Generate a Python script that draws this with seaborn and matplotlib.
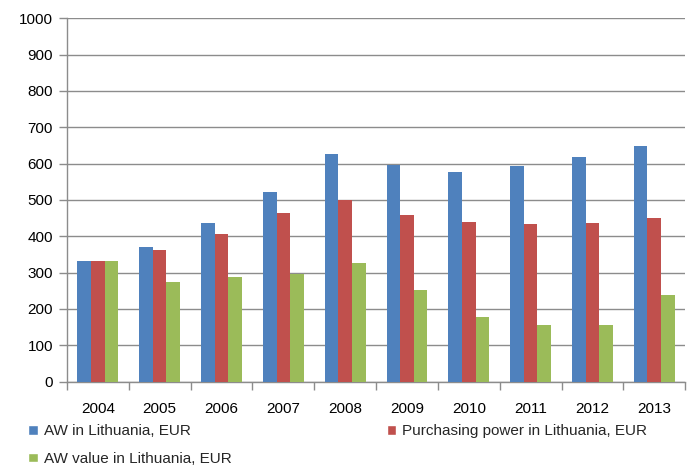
import numpy as np
import pandas as pd
import matplotlib
matplotlib.use("Agg")
import matplotlib.pyplot as plt
from matplotlib.patches import Patch
import seaborn as sns

years = ["2004", "2005", "2006", "2007", "2008", "2009", "2010", "2011", "2012", "2013"]
aw = [333, 370, 436, 522, 625, 596, 578, 593, 617, 649]
purchasing = [333, 361, 406, 464, 500, 457, 438, 433, 436, 451]
aw_value = [333, 275, 288, 296, 327, 251, 178, 156, 156, 238]

series = ["AW in Lithuania, EUR", "Purchasing power in Lithuania, EUR", "AW value in Lithuania, EUR"]
colors = ["#4F81BD", "#C0504D", "#9BBB59"]

df = pd.DataFrame({
    "year": years * 3,
    "value": aw + purchasing + aw_value,
    "series": [series[0]] * 10 + [series[1]] * 10 + [series[2]] * 10,
})

sns.set_theme(style="white")
plt.rcParams["font.family"] = ["Liberation Sans", "DejaVu Sans"]

fig = plt.figure(figsize=(6.9, 4.67), dpi=100)
ax = fig.add_axes([0.097, 0.183, 0.896, 0.778])

sns.barplot(data=df, x="year", y="value", hue="series", hue_order=series,
            palette=colors, width=0.66, saturation=1, legend=False, ax=ax,
            linewidth=0, zorder=3)

ax.set_ylim(0, 1000)
ax.set_xlim(-0.5, 9.5)
ax.set_yticks(np.arange(0, 1001, 100))
ax.yaxis.grid(True, color="#8c8c8c", linewidth=1, zorder=0)
ax.set_axisbelow(True)
ax.set_xlabel("")
ax.set_ylabel("")

for s in ["top", "right"]:
    ax.spines[s].set_visible(False)
for s in ["left", "bottom"]:
    ax.spines[s].set_color("#8c8c8c")
    ax.spines[s].set_linewidth(1)

ax.tick_params(axis="y", which="major", left=True, length=6, width=1, color="#8c8c8c",
               labelsize=11, pad=4, labelcolor="#000000")
ax.tick_params(axis="x", which="major", bottom=False, labelsize=11, pad=9, labelcolor="#000000")
ax.set_xticks(np.arange(-0.5, 10, 1), minor=True)
ax.tick_params(axis="x", which="minor", bottom=True, length=6, width=1, color="#8c8c8c")

handles = [Patch(facecolor=colors[0]), Patch(facecolor=colors[2]), Patch(facecolor=colors[1])]
labels = [series[0], series[2], series[1]]
fig.legend(handles, labels, ncol=2, loc="upper left", bbox_to_anchor=(0.03, 0.108),
           frameon=False, fontsize=11, handlelength=0.6, handleheight=0.6,
           handletextpad=0.4, columnspacing=10.2, labelspacing=0.9, borderpad=0)

fig.savefig("out.png", dpi=100)
